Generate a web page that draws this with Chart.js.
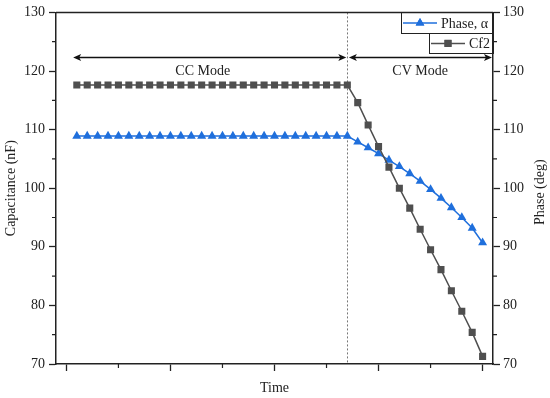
<!DOCTYPE html>
<html>
<head>
    <meta charset="utf-8">
    <title>Capacitance and phase vs time</title>
    <script src="https://cdn.jsdelivr.net/npm/chart.js@4.4.0/dist/chart.umd.min.js"></script>
    <style>
        html, body { margin: 0; padding: 0; background: #fff; }
        #wrap { width: 550px; height: 398px; }
    </style>
</head>
<body>
<div id="wrap"><canvas id="myChart" width="550" height="398"></canvas></div>
<script>
// time steps (no labels on the time axis)
var timeIdx = [0, 1, 2, 3, 4, 5, 6, 7, 8, 9, 10, 11, 12, 13, 14, 15, 16, 17, 18, 19,
               20, 21, 22, 23, 24, 25, 26, 27, 28, 29, 30, 31, 32, 33, 34, 35, 36, 37, 38, 39];

// Cf2 capacitance (nF)
var cf2 = [117.6, 117.6, 117.6, 117.6, 117.6, 117.6, 117.6, 117.6, 117.6, 117.6,
           117.6, 117.6, 117.6, 117.6, 117.6, 117.6, 117.6, 117.6, 117.6, 117.6,
           117.6, 117.6, 117.6, 117.6, 117.6, 117.6, 117.6,
           114.6, 110.8, 107.1, 103.6, 100.0, 96.6, 93.0, 89.5, 86.1, 82.5, 79.0, 75.4, 71.3];

// phase alpha (deg)
var phase = [108.9, 108.9, 108.9, 108.9, 108.9, 108.9, 108.9, 108.9, 108.9, 108.9,
             108.9, 108.9, 108.9, 108.9, 108.9, 108.9, 108.9, 108.9, 108.9, 108.9,
             108.9, 108.9, 108.9, 108.9, 108.9, 108.9, 108.9,
             107.9, 106.9, 105.9, 104.8, 103.7, 102.5, 101.2, 99.8, 98.3, 96.7, 95.0, 93.2, 90.7];

var xTicks = [-1, 9, 19, 29, 39];
var xMinorTicks = [4, 14, 24, 34];
var yTicks = [70, 80, 90, 100, 110, 120, 130];
var yMinorTicks = [75, 85, 95, 105, 115, 125];

// CC -> CV switch and mode annotations, in data units
var switchX = 26;
var arrowY = 122.3;
var ccArrow = [-0.35, 25.9];
var cvArrow = [26.15, 39.9];
var modeLabels = [
    { text: 'CC Mode', x: 12.1, y: 120.0 },
    { text: 'CV Mode', x: 33.0, y: 120.0 }
];

var FONT = '"Liberation Serif", "Times New Roman", serif';
var INK = '#222';
var BLUE = '#1f6fdc';
var GRAY = '#4f4f4f';

function toPoints(ys) {
    return timeIdx.map(function (x, i) { return { x: x, y: ys[i] }; });
}

function arrowHead(ctx, x, y, dir) {
    ctx.beginPath();
    ctx.moveTo(x, y);
    ctx.lineTo(x - dir * 8, y - 3.5);
    ctx.lineTo(x - dir * 6, y);
    ctx.lineTo(x - dir * 8, y + 3.5);
    ctx.closePath();
    ctx.fill();
}

var extras = {
    id: 'extras',
    beforeDatasetsDraw: function (chart) {
        var ctx = chart.ctx, a = chart.chartArea;
        var sx = chart.scales.x, sy = chart.scales.y;
        ctx.save();
        // switch line
        ctx.strokeStyle = '#777';
        ctx.lineWidth = 1;
        ctx.setLineDash([2, 2]);
        var px = Math.round(sx.getPixelForValue(switchX)) + 0.5;
        ctx.beginPath();
        ctx.moveTo(px, a.top);
        ctx.lineTo(px, a.bottom);
        ctx.stroke();
        ctx.setLineDash([]);

        // mode arrows
        ctx.strokeStyle = '#111';
        ctx.fillStyle = '#111';
        ctx.lineWidth = 1.5;
        var ay = sy.getPixelForValue(arrowY);
        [ccArrow, cvArrow].forEach(function (ar) {
            var x1 = sx.getPixelForValue(ar[0]), x2 = sx.getPixelForValue(ar[1]);
            ctx.beginPath();
            ctx.moveTo(x1 + 4, ay);
            ctx.lineTo(x2 - 4, ay);
            ctx.stroke();
            arrowHead(ctx, x1, ay, -1);
            arrowHead(ctx, x2, ay, 1);
        });

        // mode texts
        ctx.font = '14px ' + FONT;
        ctx.fillStyle = INK;
        ctx.textAlign = 'center';
        ctx.textBaseline = 'middle';
        modeLabels.forEach(function (m) {
            ctx.fillText(m.text, sx.getPixelForValue(m.x), sy.getPixelForValue(m.y));
        });
        ctx.restore();
    },
    afterDraw: function (chart) {
        var ctx = chart.ctx, a = chart.chartArea;
        var sx = chart.scales.x, sy = chart.scales.y;
        ctx.save();
        ctx.strokeStyle = INK;
        ctx.lineWidth = 1.5;
        // top frame line
        ctx.beginPath();
        ctx.moveTo(a.left, a.top);
        ctx.lineTo(a.right, a.top);
        ctx.stroke();

        // minor ticks
        ctx.lineWidth = 1.2;
        ctx.beginPath();
        yMinorTicks.forEach(function (v) {
            var py = sy.getPixelForValue(v);
            ctx.moveTo(a.left, py); ctx.lineTo(a.left - 4, py);
            ctx.moveTo(a.right, py); ctx.lineTo(a.right + 4, py);
        });
        xMinorTicks.forEach(function (v) {
            var px = sx.getPixelForValue(v);
            ctx.moveTo(px, a.bottom); ctx.lineTo(px, a.bottom + 4);
        });
        ctx.stroke();

        // right axis title
        ctx.font = '14px ' + FONT;
        ctx.fillStyle = INK;
        ctx.textAlign = 'center';
        ctx.textBaseline = 'middle';
        ctx.translate(540, (a.top + a.bottom) / 2 + 4);
        ctx.rotate(-Math.PI / 2);
        ctx.fillText('Phase (deg)', 0, 0);
        ctx.restore();

        // legend boxes, stacked in the top right corner
        ctx.save();
        ctx.font = '14px ' + FONT;
        ctx.textAlign = 'left';
        ctx.textBaseline = 'middle';
        ctx.lineWidth = 1;
        var items = [
            { text: 'Phase, \u03b1', color: BLUE, style: 'triangle', w: 92, h: 21 },
            { text: 'Cf2', color: GRAY, style: 'rect', w: 64, h: 20 }
        ];
        var top = a.top;
        items.forEach(function (it) {
            var left = a.right - it.w;
            ctx.strokeStyle = INK;
            ctx.strokeRect(Math.round(left) + 0.5, Math.round(top) + 0.5, it.w, it.h);
            var cy = top + it.h / 2;
            ctx.strokeStyle = it.color;
            ctx.lineWidth = 1.5;
            ctx.beginPath();
            ctx.moveTo(left + 2, cy);
            ctx.lineTo(left + 36, cy);
            ctx.stroke();
            ctx.lineWidth = 1;
            ctx.fillStyle = it.color;
            Chart.helpers.drawPoint(ctx, { pointStyle: it.style, radius: 5, rotation: 0, borderWidth: 0 }, left + 19, cy);
            ctx.fill();
            ctx.fillStyle = INK;
            ctx.fillText(it.text, left + 40, cy + 1);
            top += it.h;
        });
        ctx.restore();
    }
};

var ctx = document.getElementById('myChart').getContext('2d');
var myChart = new Chart(ctx, {
    type: 'line',
    data: {
        datasets: [
            {
                label: 'Cf2',
                data: toPoints(cf2),
                yAxisID: 'y',
                borderColor: GRAY,
                backgroundColor: GRAY,
                borderWidth: 1.5,
                pointStyle: 'rect',
                pointRadius: 5,
                pointBorderWidth: 0,
                tension: 0
            },
            {
                label: 'Phase, \u03b1',
                data: toPoints(phase),
                yAxisID: 'y2',
                borderColor: BLUE,
                backgroundColor: BLUE,
                borderWidth: 1.5,
                pointStyle: 'triangle',
                pointRadius: 5.2,
                pointBorderWidth: 0,
                tension: 0
            }
        ]
    },
    options: {
        responsive: false,
        animation: false,
        layout: { padding: { top: 12, left: 0, right: 0, bottom: 0 } },
        plugins: {
            legend: { display: false },
            tooltip: { enabled: false },
            title: { display: false }
        },
        scales: {
            x: {
                type: 'linear',
                position: 'bottom',
                min: -2,
                max: 40,
                afterBuildTicks: function (s) { s.ticks = xTicks.map(function (v) { return { value: v }; }); },
                afterFit: function (s) { s.height = 34; },
                ticks: { display: false },
                grid: { drawOnChartArea: false, drawTicks: true, tickLength: 7, tickColor: INK, tickWidth: 1.3 },
                border: { display: true, color: INK, width: 1.5 },
                title: {
                    display: true, text: 'Time', color: INK,
                    font: { family: FONT, size: 14 },
                    padding: { top: 0, bottom: 1 }
                }
            },
            y: {
                position: 'left',
                min: 70,
                max: 130,
                afterBuildTicks: function (s) { s.ticks = yTicks.map(function (v) { return { value: v }; }); },
                afterFit: function (s) { s.width = 56; },
                ticks: { color: INK, font: { family: FONT, size: 14 }, padding: 4 },
                grid: { drawOnChartArea: false, drawTicks: true, tickLength: 7, tickColor: INK, tickWidth: 1.3 },
                border: { display: true, color: INK, width: 1.5 },
                title: {
                    display: true, text: 'Capacitance (nF)', color: INK,
                    font: { family: FONT, size: 14 },
                    padding: { top: 3, bottom: 0 }
                }
            },
            y2: {
                position: 'right',
                min: 70,
                max: 130,
                afterBuildTicks: function (s) { s.ticks = yTicks.map(function (v) { return { value: v }; }); },
                afterFit: function (s) { s.width = 57; },
                ticks: { color: INK, font: { family: FONT, size: 14 }, padding: 3 },
                grid: { drawOnChartArea: false, drawTicks: true, tickLength: 7, tickColor: INK, tickWidth: 1.3 },
                border: { display: true, color: INK, width: 1.5 }
            }
        }
    },
    plugins: [extras]
});
</script>
</body>
</html>
